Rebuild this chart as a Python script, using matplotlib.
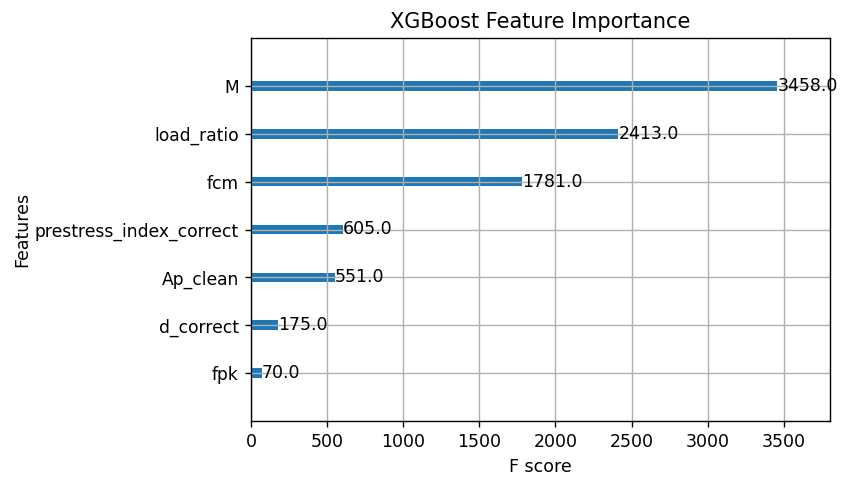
import matplotlib
matplotlib.use("Agg")
import matplotlib.pyplot as plt

features = ["fpk", "d_correct", "Ap_clean", "prestress_index_correct", "fcm", "load_ratio", "M"]
scores = [70.0, 175.0, 551.0, 605.0, 1781.0, 2413.0, 3458.0]

W, H = 849, 482
dpi = 125
fig = plt.figure(figsize=(W / dpi, H / dpi), dpi=dpi)
ax = fig.add_axes([251 / W, 1 - 421 / H, (830 - 251) / W, (421 - 38) / H])

ylocs = list(range(len(scores)))
ax.barh(ylocs, scores, align="center", height=0.2, color="#1f77b4")
for x, y in zip(scores, ylocs):
    ax.text(x + 1, y, str(x), va="center")
ax.set_yticks(ylocs)
ax.set_yticklabels(features, fontsize=9.85)
ax.set_xlim(0, max(scores) * 1.1)
ax.set_ylim(-1, len(scores))
ax.set_title("XGBoost Feature Importance")
ax.set_xlabel("F score")
ax.set_ylabel("Features", labelpad=2)
ax.grid(True)

fig.savefig("out.png", dpi=dpi)
